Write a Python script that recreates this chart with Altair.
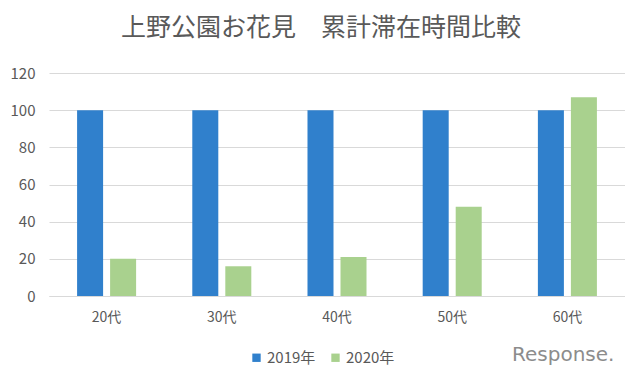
import altair as alt
import pandas as pd

ages = ["20代", "30代", "40代", "50代", "60代"]
years = ["2019年", "2020年"]
v2019 = [100, 100, 100, 100, 100]
v2020 = [20, 16, 21, 48, 107]

rows = []
for i, a in enumerate(ages):
    rows.append({"age": a, "year": years[0], "value": v2019[i]})
    rows.append({"age": a, "year": years[1], "value": v2020[i]})
df = pd.DataFrame(rows)

FONT = "Noto Sans CJK JP"
GREY = "#595959"

bars = alt.Chart(df).mark_bar().encode(
    x=alt.X("age:N", sort=ages, title=None,
            scale=alt.Scale(paddingInner=0, paddingOuter=0),
            axis=alt.Axis(labelAngle=0, ticks=False, domain=True, domainColor="#d9d9d9",
                          labelPadding=14, labelFontSize=14, labelColor=GREY, labelFont=FONT)),
    xOffset=alt.XOffset("year:N", sort=years,
                        scale=alt.Scale(paddingInner=0.212, paddingOuter=0.851)),
    y=alt.Y("value:Q", title=None,
            scale=alt.Scale(domain=[0, 120], nice=False),
            axis=alt.Axis(values=[0, 20, 40, 60, 80, 100, 120], ticks=False, domain=False,
                          gridColor="#d9d9d9", labelPadding=14, labelFontSize=15,
                          labelColor=GREY, labelFont=FONT)),
    color=alt.Color("year:N", sort=years, title=None,
                    scale=alt.Scale(domain=years, range=["#3080CC", "#A9D18E"]),
                    legend=alt.Legend(orient="none", legendX=200, legendY=277, direction="horizontal",
                                      symbolType="square", symbolSize=70, symbolStrokeWidth=0,
                                      labelFontSize=15, labelColor=GREY, labelFont=FONT,
                                      columnPadding=12, symbolOffset=0, labelOffset=3)),
)

logo = alt.Chart(pd.DataFrame({"t": ["Response."]})).mark_text(
    align="left", baseline="middle", fontSize=20,
    font="DejaVu Sans", color="#8c8c8c"
).encode(x=alt.value(463), y=alt.value(282), text="t:N")

chart = alt.layer(bars, logo).properties(
    width=576, height=223,
    autosize=alt.AutoSizeParams(type="none"),
    padding={"left": 41, "top": 65, "right": 0, "bottom": 72},
    title=alt.TitleParams("上野公園お花見　累計滞在時間比較", fontSize=25, font=FONT,
                          fontWeight="normal", color=GREY, anchor="middle", dx=-16, offset=25),
).configure_view(stroke=None)

chart.save("out.html", embed_options={"renderer": "svg", "actions": False})
